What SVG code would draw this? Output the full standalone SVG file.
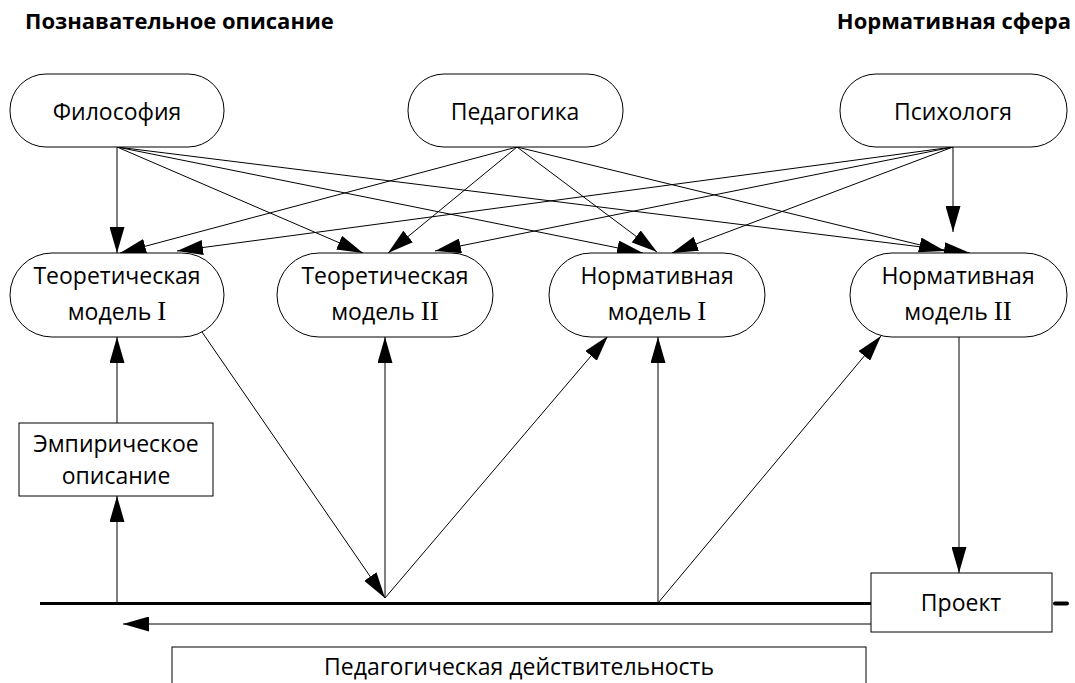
<svg xmlns="http://www.w3.org/2000/svg" width="1075" height="683" viewBox="0 0 1075 683">
<defs>
<style>
.n{fill:#fff;stroke:#000;stroke-width:1}
.t{font-family:"Open Sans","Noto Sans",sans-serif;font-size:23px;fill:#000;text-anchor:middle}
.r{font-family:"Liberation Serif","Times New Roman",serif;font-size:27px}
.h{font-family:"Open Sans","Noto Sans",sans-serif;font-size:22px;font-weight:bold;fill:#000}
.c{stroke:#000;stroke-width:1;fill:none}
</style>
<marker id="a" viewBox="0 0 26 15" refX="26" refY="7.5" markerWidth="26" markerHeight="15" markerUnits="userSpaceOnUse" orient="auto">
<path d="M0,0 L26,7.5 L0,15 z" fill="#000"/>
</marker>
</defs>
<rect width="1075" height="683" fill="#fff"/>
<text class="h" x="25" y="29">Познавательное описание</text>
<text class="h" x="1071" y="29" text-anchor="end">Нормативная сфера</text>

<g id="connectors">
<g class="c" marker-end="url(#a)">
<line x1="117" y1="147" x2="117" y2="253"/>
<line x1="117" y1="147" x2="363" y2="253"/>
<line x1="117" y1="147" x2="643" y2="253"/>
<line x1="117" y1="147" x2="970" y2="253"/>
<line x1="517" y1="147" x2="120" y2="253"/>
<line x1="517" y1="147" x2="388" y2="253"/>
<line x1="517" y1="147" x2="657" y2="252"/>
<line x1="517" y1="147" x2="945" y2="251"/>
<line x1="953" y1="147" x2="177" y2="251"/>
<line x1="953" y1="147" x2="435" y2="251"/>
<line x1="953" y1="147" x2="672" y2="253"/>
<line x1="953" y1="147" x2="953" y2="232"/>
<line x1="117" y1="423" x2="117" y2="337"/>
<line x1="117" y1="603" x2="117" y2="496"/>
<line x1="202" y1="332" x2="385" y2="598"/>
<line x1="385" y1="598" x2="385" y2="337"/>
<line x1="385" y1="598" x2="608" y2="336"/>
<line x1="658" y1="603" x2="658" y2="337"/>
<line x1="658" y1="603" x2="881" y2="336"/>
<line x1="959" y1="337" x2="959" y2="573"/>
<line x1="871" y1="624" x2="123" y2="624"/>
</g>
<line x1="40" y1="603.5" x2="871" y2="603.5" stroke="#000" stroke-width="3"/>
<line x1="1055" y1="603.5" x2="1067" y2="603.5" stroke="#000" stroke-width="4" stroke-linecap="round"/>
</g>

<g id="filosofia"><rect class="n" x="10" y="74" width="214" height="73" rx="36" ry="36"/><text class="t" x="117" y="120">Философия</text></g>
<g id="pedagogika"><rect class="n" x="408" y="74" width="215" height="73" rx="36" ry="36"/><text class="t" x="515" y="120">Педагогика</text></g>
<g id="psihologia"><rect class="n" x="840" y="74" width="227" height="73" rx="36" ry="36"/><text class="t" x="953" y="120">Психологя</text></g>

<g id="tm1"><rect class="n" x="10" y="253" width="214" height="84" rx="42" ry="42"/><text class="t" x="117" y="284">Теоретическая</text><text class="t" x="117" y="320">модель <tspan class="r">I</tspan></text></g>
<g id="tm2"><rect class="n" x="277" y="253" width="216" height="84" rx="42" ry="42"/><text class="t" x="385" y="284">Теоретическая</text><text class="t" x="385" y="320">модель <tspan class="r">II</tspan></text></g>
<g id="nm1"><rect class="n" x="549" y="253" width="216" height="84" rx="42" ry="42"/><text class="t" x="657" y="284">Нормативная</text><text class="t" x="657" y="320">модель <tspan class="r">I</tspan></text></g>
<g id="nm2"><rect class="n" x="850" y="253" width="217" height="84" rx="42" ry="42"/><text class="t" x="958" y="284">Нормативная</text><text class="t" x="958" y="320">модель <tspan class="r">II</tspan></text></g>

<g id="empir"><rect class="n" x="19" y="423" width="194" height="73"/><text class="t" x="116" y="452">Эмпирическое</text><text class="t" x="116" y="484">описание</text></g>
<g id="proekt"><rect class="n" x="871" y="573" width="181" height="59"/><text class="t" x="961" y="611">Проект</text></g>
<g id="realnost"><rect class="n" x="172" y="647" width="694" height="50"/><text class="t" x="519" y="675">Педагогическая действительность</text></g>
</svg>
